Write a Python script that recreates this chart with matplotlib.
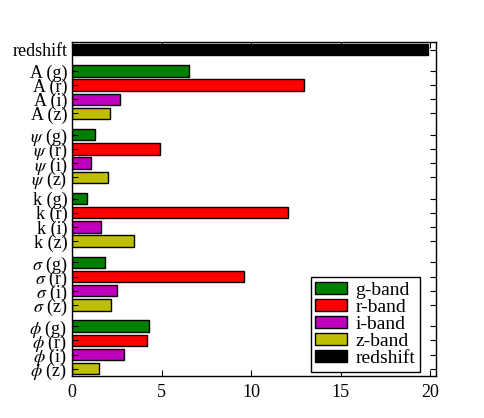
import numpy as np
import matplotlib
matplotlib.use("Agg")
import matplotlib.pyplot as plt

plt.rcParams['font.family'] = ['Liberation Serif', 'DejaVu Serif']
plt.rcParams['mathtext.fontset'] = 'stix'

# parameters and bands
params = [r'A', r'$\psi$', r'k', r'$\sigma$', r'$\phi$']
bands = ['g', 'r', 'i', 'z']
band_labels = ['g-band', 'r-band', 'i-band', 'z-band']
band_colors = ['g', 'r', 'm', 'y']

# bar lengths, one list per parameter (g, r, i, z)
vals_A = [6.52, 12.93, 2.66, 2.11]
vals_psi = [1.27, 4.88, 1.04, 1.98]
vals_k = [0.80, 12.07, 1.62, 3.46]
vals_sigma = [1.84, 9.61, 2.48, 2.16]
vals_phi = [4.28, 4.19, 2.89, 1.47]
redshift = 19.87

all_vals = [vals_A, vals_psi, vals_k, vals_sigma, vals_phi]

fig = plt.figure(figsize=(4.85, 4.18), dpi=100)
ax = fig.add_axes([0.149, 0.101, 0.750, 0.799])

ypos = []
ylabels = []
ax.barh(0, redshift, height=0.8, color='k', edgecolor='k', label='redshift')
ypos.append(0)
ylabels.append('redshift')

for j, b in enumerate(bands):
    ys = [1.5 + i * 4.5 + j for i in range(len(params))]
    xs = [v[j] for v in all_vals]
    ax.barh(ys, xs, height=0.8, color=band_colors[j], edgecolor='k',
            linewidth=1, label=band_labels[j])
for i, p in enumerate(params):
    for j, b in enumerate(bands):
        ypos.append(1.5 + i * 4.5 + j)
        ylabels.append('%s (%s)' % (p, b))

ax.set_yticks(ypos)
ax.set_yticklabels(ylabels, fontsize=13)
ax.set_ylim(23.0, -0.55)
ax.set_xlim(0, 20.33)
ax.set_xticks([0, 5, 10, 15, 20])
ax.tick_params(axis='x', labelsize=13)
ax.tick_params(direction='in', top=True, right=True, length=4, width=0.8)
ax.tick_params(axis='x', pad=6)
for s in ax.spines.values():
    s.set_linewidth(1.0)

handles, labels = ax.get_legend_handles_labels()
order = [1, 2, 3, 4, 0]
ax.legend([handles[i] for i in order], [labels[i] for i in order],
          loc='lower right', bbox_to_anchor=(0.866, 0.111),
          bbox_transform=fig.transFigure, borderaxespad=0,
          fontsize=14, fancybox=False, edgecolor='k', framealpha=1,
          handlelength=1.65, handleheight=0.6, handletextpad=0.4,
          labelspacing=0.0, borderpad=0.25)

plt.savefig('out.png', dpi=100)
